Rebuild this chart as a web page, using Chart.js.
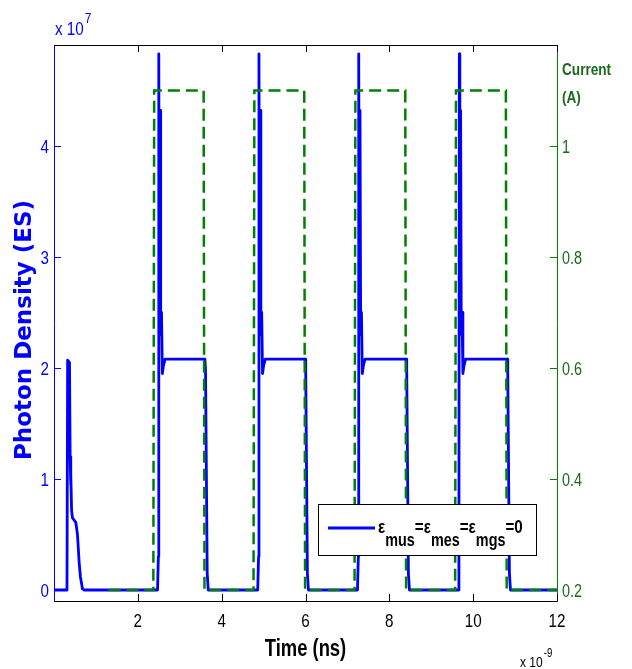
<!DOCTYPE html>
<html>
<head>
<meta charset="utf-8">
<script src="https://cdn.jsdelivr.net/npm/chart.js@4.4.0/dist/chart.umd.min.js"></script>
<style>
  html, body { margin: 0; padding: 0; background: #fff; }
  #wrap { width: 632px; height: 669px; }
</style>
</head>
<body>
<div id="wrap"><canvas id="chart" width="632" height="669"></canvas></div>
<script>
// Time in ns (axis is x 10^-9 s), photon density in units of 10^7
const photonTime = [
  0, 0.31, 0.325, 0.37, 0.385, 0.395, 0.405, 0.42, 0.44, 0.52, 0.56, 0.60, 0.63, 0.68, 0.72,
  2.47, 2.49, 2.50, 2.512, 2.53, 2.545, 2.555, 2.565, 2.585, 2.61, 2.65, 3.60, 3.615, 3.655, 3.68,
  4.86, 4.88, 4.89, 4.902, 4.92, 4.935, 4.945, 4.955, 4.975, 5.00, 5.04, 5.99, 6.005, 6.045, 6.07,
  7.24, 7.26, 7.27, 7.282, 7.30, 7.315, 7.325, 7.335, 7.355, 7.38, 7.42, 8.40, 8.415, 8.455, 8.48,
  9.64, 9.66, 9.67, 9.682, 9.70, 9.715, 9.725, 9.735, 9.755, 9.78, 9.82, 10.81, 10.825, 10.865, 10.89,
  12
];
const photonDensity = [
  0, 0, 2.07, 2.05, 1.2, 0.95, 1.05, 0.72, 0.65, 0.61, 0.5, 0.25, 0.12, 0.01, 0,
  0, 0.3, 4.83, 2.4, 4.32, 2.45, 2.3, 2.5, 1.95, 2.02, 2.08, 2.08, 1.98, 0.15, 0,
  0, 0.3, 4.83, 2.4, 4.32, 2.45, 2.3, 2.5, 1.95, 2.02, 2.08, 2.08, 1.98, 0.15, 0,
  0, 0.3, 4.83, 2.4, 4.32, 2.45, 2.3, 2.5, 1.95, 2.02, 2.08, 2.08, 1.98, 0.15, 0,
  0, 0.3, 4.83, 2.4, 4.32, 2.45, 2.3, 2.5, 1.95, 2.02, 2.08, 2.08, 1.98, 0.15, 0,
  0
];
const currentTime = [1.3, 2.37, 2.39, 3.57, 3.59, 4.76, 4.78, 5.97, 5.99, 7.17, 7.19, 8.38, 8.40, 9.57, 9.59, 10.78, 10.80, 12];
const currentAmps = [0.2, 0.2, 1.1, 1.1, 0.2, 0.2, 1.1, 1.1, 0.2, 0.2, 1.1, 1.1, 0.2, 0.2, 1.1, 1.1, 0.2, 0.2];

const xTicks = [2, 4, 6, 8, 10, 12];
const xTickLabels = ['2', '4', '6', '8', '10', '12'];
const leftTicks = [0, 1, 2, 3, 4];
const leftTickLabels = ['0', '1', '2', '3', '4'];
const rightTicks = [0.2, 0.4, 0.6, 0.8, 1];
const rightTickLabels = ['0.2', '0.4', '0.6', '0.8', '1'];

const BLUE = '#0000ff';
const GREEN = '#008000';
const DARK_GREEN = '#1a6a1a';
const SANS = "'Liberation Sans', Arial, sans-serif";

// draw text squeezed horizontally (the original figure is stretched vertically)
function squeezed(ctx, text, x, y, size, bold, color, align) {
  ctx.save();
  ctx.font = (bold ? 'bold ' : '') + size + 'px ' + SANS;
  const w = ctx.measureText(text).width * 0.8;
  let x0 = x;
  if (align === 'center') x0 = x - w / 2;
  if (align === 'right') x0 = x - w;
  ctx.translate(x0, y);
  ctx.scale(0.8, 1);
  ctx.fillStyle = color;
  ctx.textAlign = 'left';
  ctx.textBaseline = 'alphabetic';
  ctx.fillText(text, 0, 0);
  ctx.restore();
  return w;
}

const decorations = {
  id: 'decorations',
  afterDraw(chart) {
    const ctx = chart.ctx;
    const { left, right, top, bottom } = chart.chartArea;
    const sx = chart.scales.x, sy = chart.scales.y, sy1 = chart.scales.y1;

    ctx.save();
    ctx.lineWidth = 1;
    // top frame line
    ctx.strokeStyle = '#000';
    ctx.beginPath();
    ctx.moveTo(left, top + 0.5);
    ctx.lineTo(right, top + 0.5);
    ctx.stroke();

    // inward ticks
    xTicks.forEach(v => {
      const px = Math.round(sx.getPixelForValue(v)) + 0.5;
      ctx.beginPath();
      ctx.moveTo(px, bottom); ctx.lineTo(px, bottom - 7);
      ctx.moveTo(px, top); ctx.lineTo(px, top + 7);
      ctx.stroke();
    });
    ctx.strokeStyle = BLUE;
    leftTicks.forEach(v => {
      const py = Math.round(sy.getPixelForValue(v)) + 0.5;
      ctx.beginPath();
      ctx.moveTo(left, py); ctx.lineTo(left + 7, py);
      ctx.stroke();
    });
    ctx.strokeStyle = GREEN;
    rightTicks.forEach(v => {
      const py = Math.round(sy1.getPixelForValue(v)) + 0.5;
      ctx.beginPath();
      ctx.moveTo(right, py); ctx.lineTo(right - 7, py);
      ctx.stroke();
    });
    ctx.restore();

    // tick labels
    xTicks.forEach((v, i) => {
      squeezed(ctx, xTickLabels[i], sx.getPixelForValue(v), 627, 19, false, '#000', 'center');
    });
    leftTicks.forEach((v, i) => {
      squeezed(ctx, leftTickLabels[i], 49, sy.getPixelForValue(v) + 7, 19, false, BLUE, 'right');
    });
    rightTicks.forEach((v, i) => {
      squeezed(ctx, rightTickLabels[i], 562, sy1.getPixelForValue(v) + 7, 18, false, DARK_GREEN, 'left');
    });

    // axis titles and exponents
    ctx.save();
    ctx.translate(25, (top + bottom) / 2 + 7);
    ctx.rotate(-Math.PI / 2);
    ctx.font = "bold 23px 'DejaVu Sans', sans-serif";
    ctx.fillStyle = BLUE;
    ctx.textAlign = 'center';
    ctx.textBaseline = 'middle';
    ctx.fillText('Photon Density (ES)', 0, 0);
    ctx.restore();

    let w = squeezed(ctx, 'x 10', 55, 35, 19, false, BLUE, 'left');
    squeezed(ctx, '7', 55 + w + 1, 23, 15, false, BLUE, 'left');

    squeezed(ctx, 'Current', 562, 75, 17, true, DARK_GREEN, 'left');
    squeezed(ctx, '(A)', 562, 103, 17, true, DARK_GREEN, 'left');

    squeezed(ctx, 'Time (ns)', (left + right) / 2, 656, 23, true, '#000', 'center');

    w = squeezed(ctx, 'x 10', 520, 667, 15, false, '#000', 'left');
    squeezed(ctx, '-9', 520 + w + 1, 657, 12, false, '#000', 'left');

    // legend box
    ctx.save();
    ctx.fillStyle = '#fff';
    ctx.strokeStyle = '#000';
    ctx.lineWidth = 1;
    ctx.fillRect(318.5, 504.5, 218, 51);
    ctx.strokeRect(318.5, 504.5, 218, 51);
    ctx.strokeStyle = BLUE;
    ctx.lineWidth = 3;
    ctx.beginPath();
    ctx.moveTo(328, 528);
    ctx.lineTo(375, 528);
    ctx.stroke();
    ctx.restore();

    const parts = [['ε', 'mus'], ['=ε', 'mes'], ['=ε', 'mgs'], ['=0', '']];
    let lx = 378;
    parts.forEach(([main, sub]) => {
      lx += squeezed(ctx, main, lx, 533, 19, true, '#000', 'left');
      if (sub) lx += squeezed(ctx, sub, lx, 546, 18, true, '#000', 'left');
    });
  }
};

new Chart(document.getElementById('chart'), {
  type: 'line',
  data: {
    datasets: [
      {
        label: 'Current',
        data: currentTime.map((t, i) => ({ x: t, y: currentAmps[i] })),
        yAxisID: 'y1',
        borderColor: GREEN,
        borderWidth: 2.5,
        borderDash: [12, 6],
        pointRadius: 0,
        tension: 0,
        fill: false
      },
      {
        label: 'εmus=εmes=εmgs=0',
        data: photonTime.map((t, i) => ({ x: t, y: photonDensity[i] })),
        yAxisID: 'y',
        borderColor: BLUE,
        borderWidth: 2.8,
        borderJoinStyle: 'round',
        pointRadius: 0,
        tension: 0,
        fill: false
      }
    ]
  },
  options: {
    responsive: false,
    animation: false,
    events: [],
    layout: { padding: { top: 45, left: 0, right: 0, bottom: 0 } },
    plugins: {
      legend: { display: false },
      tooltip: { enabled: false }
    },
    scales: {
      x: {
        type: 'linear',
        min: 0,
        max: 12,
        afterBuildTicks: s => { s.ticks = xTicks.map(v => ({ value: v })); },
        afterFit: s => { s.height = 68; },
        grid: { display: false },
        border: { display: true, color: '#000', width: 1 },
        ticks: { display: false }
      },
      y: {
        type: 'linear',
        position: 'left',
        min: -0.099,
        max: 4.91,
        afterBuildTicks: s => { s.ticks = leftTicks.map(v => ({ value: v })); },
        afterFit: s => { s.width = 54; },
        grid: { display: false },
        border: { display: true, color: BLUE, width: 1 },
        ticks: { display: false }
      },
      y1: {
        type: 'linear',
        position: 'right',
        min: 0.1802,
        max: 1.182,
        afterBuildTicks: s => { s.ticks = rightTicks.map(v => ({ value: v })); },
        afterFit: s => { s.width = 75; },
        grid: { display: false },
        border: { display: true, color: GREEN, width: 1 },
        ticks: { display: false }
      }
    }
  },
  plugins: [decorations]
});
</script>
</body>
</html>
